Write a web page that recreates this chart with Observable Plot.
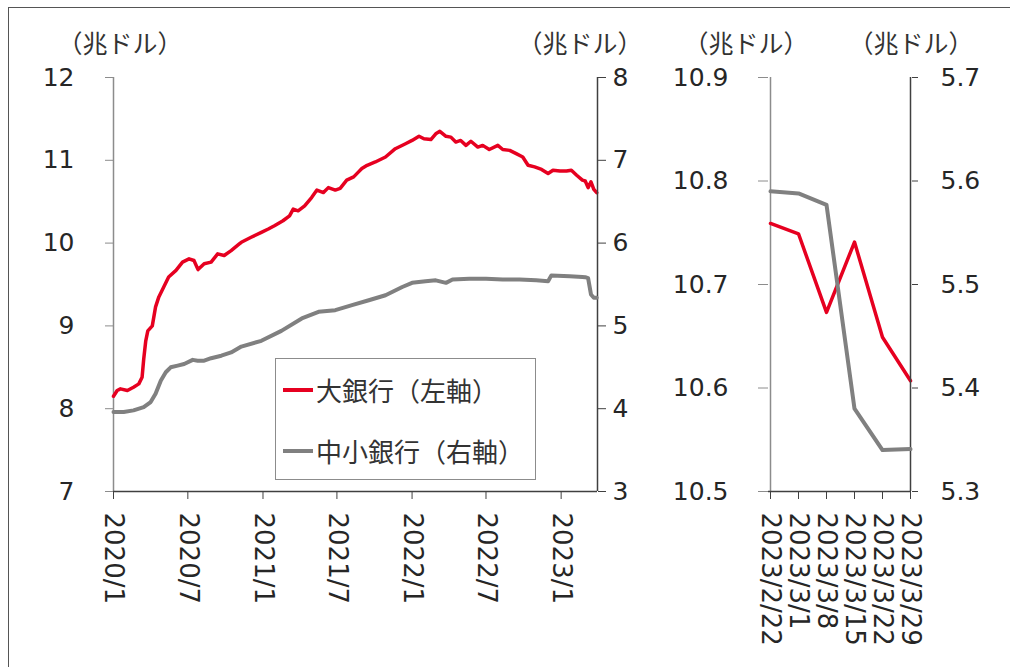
<!DOCTYPE html>
<html><head><meta charset="utf-8">
<script src="https://cdn.jsdelivr.net/npm/d3@7"></script>
<script src="https://cdn.jsdelivr.net/npm/@observablehq/plot@0.6"></script>
<style>
body{margin:0;background:#fff;}
#wrap{position:relative;width:1010px;height:667px;overflow:hidden;background:#fff;}
.frame{position:absolute;left:8px;top:7px;width:1200px;height:900px;border-left:1.5px solid #555;border-top:1.5px solid #555;}
.layer{position:absolute;top:0;}
.unit{position:absolute;top:30px;font-family:"Noto Sans CJK JP",sans-serif;font-size:25px;color:#333;line-height:1;white-space:nowrap;transform:translateX(-50%);}
.legend{position:absolute;left:275px;top:358px;width:261px;height:122px;border:1.5px solid #8c8c8c;background:#fff;box-sizing:border-box;}
.lg{position:absolute;left:7px;font-family:"Noto Sans CJK JP",sans-serif;font-size:26px;color:#333;line-height:1;white-space:nowrap;display:flex;align-items:center;}
.sw{display:inline-block;width:30px;height:4px;margin-right:3px;}
</style>
</head><body>
<div id="wrap">
  <div class="frame"></div>
</div>
<script>
// ---- Data ----
// Left panel (weekly)
const largeDates = ["2020-01-01","2020-01-10","2020-01-18","2020-02-04","2020-02-19","2020-03-03","2020-03-11","2020-03-15","2020-03-20","2020-03-25","2020-04-05","2020-04-13","2020-04-21","2020-05-03","2020-05-15","2020-06-02","2020-06-18","2020-07-04","2020-07-16","2020-07-26","2020-08-10","2020-08-27","2020-09-12","2020-09-28","2020-10-15","2020-11-04","2020-11-09","2020-12-03","2020-12-28","2021-01-14","2021-01-29","2021-02-19","2021-03-07","2021-03-16","2021-03-28","2021-04-13","2021-04-30","2021-05-13","2021-05-29","2021-06-10","2021-06-27","2021-07-09","2021-07-25","2021-08-11","2021-08-23","2021-08-31","2021-09-13","2021-10-03","2021-10-28","2021-11-21","2021-12-16","2022-01-01","2022-01-18","2022-01-30","2022-02-16","2022-02-28","2022-03-10","2022-03-25","2022-04-06","2022-04-18","2022-04-30","2022-05-13","2022-05-25","2022-06-11","2022-06-23","2022-07-09","2022-07-30","2022-08-11","2022-08-28","2022-09-13","2022-09-29","2022-10-12","2022-10-28","2022-11-14","2022-11-30","2022-12-12","2022-12-29","2023-01-14","2023-01-26","2023-02-08","2023-02-22","2023-03-01","2023-03-08","2023-03-15","2023-03-22","2023-03-29"];
const largeValues = [8.15,8.22,8.24,8.22,8.26,8.30,8.38,8.60,8.82,8.94,9.00,9.23,9.35,9.47,9.59,9.67,9.77,9.81,9.79,9.68,9.75,9.77,9.87,9.85,9.91,9.99,10.01,10.07,10.13,10.17,10.21,10.27,10.33,10.41,10.39,10.45,10.55,10.64,10.61,10.67,10.64,10.66,10.76,10.80,10.86,10.90,10.94,10.98,11.04,11.14,11.20,11.24,11.29,11.26,11.25,11.32,11.35,11.29,11.28,11.22,11.24,11.18,11.23,11.16,11.18,11.13,11.18,11.13,11.12,11.08,11.04,10.94,10.92,10.89,10.84,10.88,10.87,10.87,10.88,10.82,10.76,10.75,10.67,10.74,10.65,10.61];
const smallDates = ["2020-01-01","2020-01-26","2020-02-19","2020-03-15","2020-04-01","2020-04-13","2020-04-26","2020-05-08","2020-05-20","2020-06-06","2020-06-22","2020-07-13","2020-07-25","2020-08-10","2020-08-27","2020-09-21","2020-10-15","2020-11-09","2020-12-28","2021-02-15","2021-04-06","2021-05-17","2021-06-27","2021-08-07","2021-09-17","2021-10-28","2021-12-08","2022-01-01","2022-02-03","2022-02-28","2022-03-25","2022-04-10","2022-05-21","2022-07-01","2022-08-11","2022-09-21","2022-11-01","2022-11-30","2022-12-08","2023-01-22","2023-02-22","2023-03-01","2023-03-08","2023-03-15","2023-03-22","2023-03-29"];
const smallValues = [3.96,3.96,3.98,4.02,4.08,4.18,4.34,4.44,4.50,4.52,4.54,4.59,4.58,4.58,4.61,4.64,4.68,4.75,4.82,4.94,5.09,5.17,5.19,5.25,5.31,5.37,5.47,5.52,5.54,5.55,5.52,5.56,5.57,5.57,5.56,5.56,5.55,5.54,5.61,5.60,5.59,5.588,5.577,5.38,5.34,5.341];
const leftXDomain = ["2020-01-01","2023-03-31"];
const leftXTicks = ["2020-01-01","2020-07-01","2021-01-01","2021-07-01","2022-01-01","2022-07-01","2023-01-01"];
const leftXTickLabels = ["2020/1","2020/7","2021/1","2021/7","2022/1","2022/7","2023/1"];
const leftYTicksLarge = [7,8,9,10,11,12];
const leftYTicksSmall = [3,4,5,6,7,8];

// Right panel (weekly)
const weekLabels = ["2023/2/22","2023/3/1","2023/3/8","2023/3/15","2023/3/22","2023/3/29"];
const weekLarge = [10.759,10.749,10.673,10.741,10.649,10.607];
const weekSmall = [5.590,5.588,5.577,5.380,5.340,5.341];
const rightYTicksLarge = [10.5,10.6,10.7,10.8,10.9];
const rightYTicksSmall = [5.3,5.4,5.5,5.6,5.7];

const seriesNames = ["大銀行（左軸）","中小銀行（右軸）"];
const unitLabel = "（兆ドル）";
const RED = "#e60020", GRAY = "#808080";

// ---- Build ----
const parse = d3.utcParse("%Y-%m-%d");
const large = largeDates.map((d,i)=>({date:parse(d), value:largeValues[i]}));
const small = smallDates.map((d,i)=>({date:parse(d), value:smallValues[i]}));
const xDom = leftXDomain.map(parse);
const xTicks = leftXTicks.map(parse);
const xLab = new Map(xTicks.map((d,i)=>[+d, leftXTickLabels[i]]));
const wkL = weekLabels.map((w,i)=>({w, value:weekLarge[i]}));
const wkS = weekLabels.map((w,i)=>({w, value:weekSmall[i]}));

const font = {background:"transparent", fontFamily:"DejaVu Sans, Verdana, sans-serif", fontSize:"25px", overflow:"visible"};
const leftDims = {width:640, height:667, marginLeft:113, marginRight:43, marginTop:77, marginBottom:176, style:font};
const rightDims = {width:370, height:667, marginLeft:128, marginRight:99, marginTop:77, marginBottom:176, style:font};
const txt = "#262626";
const fInt = d3.format("d"), f1 = d3.format(".1f");
const YFS = 25, XFS = 26;

const pA = Plot.plot({...leftDims,
  x:{type:"utc", domain:xDom},
  y:{domain:[7,12]},
  marks:[
    Plot.ruleX([xDom[0]], {stroke:"#8c8c8c", strokeWidth:1.5}),
    Plot.ruleY([7], {stroke:"#404040", strokeWidth:1.5}),
    Plot.axisY({ticks:leftYTicksLarge, tickFormat:fInt, label:null, tickSize:8, tickPadding:31, stroke:"#8c8c8c", fill:txt, fontSize:YFS}),
    Plot.axisX({ticks:xTicks, tickFormat:d=>xLab.get(+d), label:null, tickSize:8, tickPadding:13, tickRotate:90, textAnchor:"start", lineAnchor:"middle", stroke:"#404040", fill:txt, fontSize:XFS}),
    Plot.line(large, {x:"date", y:"value", stroke:RED, strokeWidth:3.5})
  ]});
const pB = Plot.plot({...leftDims,
  x:{type:"utc", domain:xDom, axis:null},
  y:{domain:[3,8]},
  marks:[
    Plot.ruleX([xDom[1]], {stroke:"#404040", strokeWidth:1.5}),
    Plot.axisY({anchor:"right", ticks:leftYTicksSmall, tickFormat:fInt, label:null, tickSize:8, tickPadding:7, stroke:"#404040", fill:txt, fontSize:YFS}),
    Plot.line(small, {x:"date", y:"value", stroke:GRAY, strokeWidth:4})
  ]});
const pC = Plot.plot({...rightDims,
  x:{type:"point", domain:weekLabels, padding:0},
  y:{domain:[10.5,10.9]},
  marks:[
    Plot.ruleX([weekLabels[0]], {stroke:"#8c8c8c", strokeWidth:1.5}),
    Plot.ruleY([10.5], {stroke:"#404040", strokeWidth:1.5}),
    Plot.axisY({ticks:rightYTicksLarge, tickFormat:f1, label:null, tickSize:10, tickPadding:30, stroke:"#8c8c8c", fill:txt, fontSize:YFS}),
    Plot.axisX({label:null, tickSize:8, tickPadding:13, tickRotate:90, textAnchor:"start", lineAnchor:"middle", stroke:"#404040", fill:txt, fontSize:XFS}),
    Plot.line(wkL, {x:"w", y:"value", stroke:RED, strokeWidth:3.5})
  ]});
const pD = Plot.plot({...rightDims,
  x:{type:"point", domain:weekLabels, padding:0, axis:null},
  y:{domain:[5.3,5.7]},
  marks:[
    Plot.ruleX([weekLabels[weekLabels.length-1]], {stroke:"#404040", strokeWidth:1.5}),
    Plot.axisY({anchor:"right", ticks:rightYTicksSmall, tickFormat:f1, label:null, tickSize:6, tickPadding:23, stroke:"#404040", fill:txt, fontSize:YFS}),
    Plot.line(wkS, {x:"w", y:"value", stroke:GRAY, strokeWidth:4})
  ]});

const wrap = document.getElementById("wrap");
function place(el, left){ el.classList.add("layer"); el.style.left = left+"px"; wrap.appendChild(el); }
place(pA, 0); place(pB, 0); place(pC, 640); place(pD, 640);

[120, 580, 746, 911].forEach(cx=>{
  const u = document.createElement("div");
  u.className = "unit"; u.textContent = unitLabel; u.style.left = cx+"px";
  wrap.appendChild(u);
});

const lg = document.createElement("div");
lg.className = "legend";
[[RED, 31],[GRAY, 92]].forEach(([c, cy], i)=>{
  const row = document.createElement("div");
  row.className = "lg"; row.style.top = (cy-13)+"px";
  const sw = document.createElement("span"); sw.className="sw"; sw.style.background=c;
  row.appendChild(sw);
  row.appendChild(document.createTextNode(seriesNames[i]));
  lg.appendChild(row);
});
wrap.appendChild(lg);
</script>
</body></html>
